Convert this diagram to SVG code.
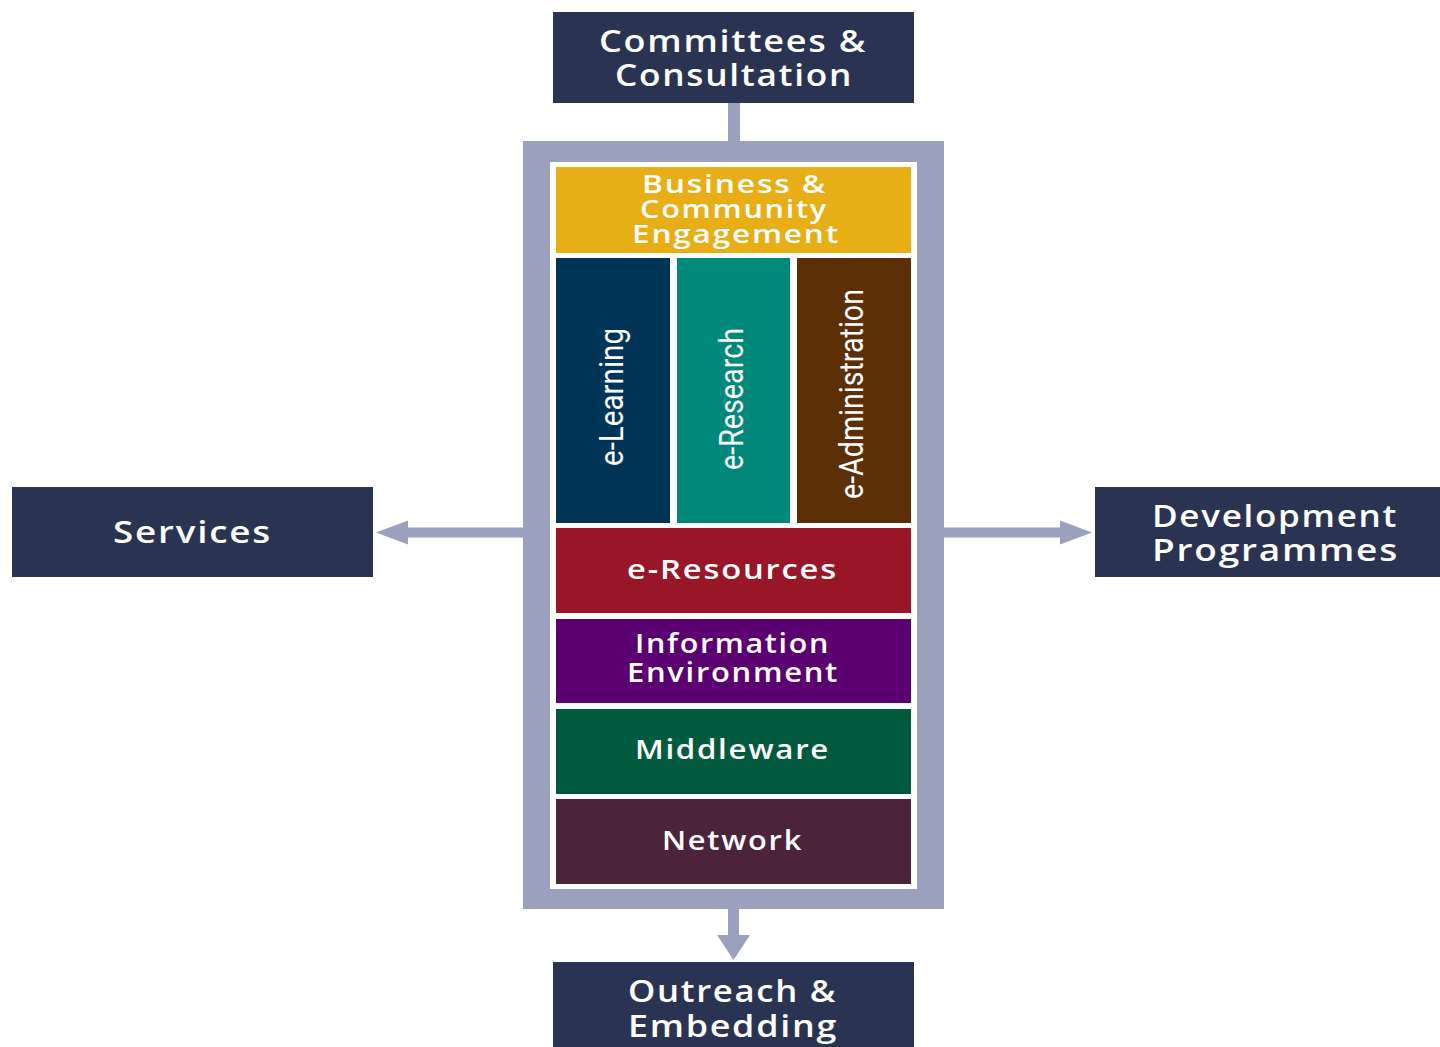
<svg xmlns="http://www.w3.org/2000/svg" width="1440" height="1047" viewBox="0 0 1440 1047">
<style>
.box{fill:#2a3352}
.t{font-family:"Open Sans","Liberation Sans",sans-serif;font-weight:600;fill:#ffffff;text-anchor:middle;letter-spacing:1.5px}
.big{font-size:31px}
.mid{font-size:27px}
.sm{font-size:26px}
.v{font-family:Roboto,"Liberation Sans",sans-serif;font-weight:400;font-size:33px;fill:#ffffff;text-anchor:middle}
.conn{stroke:#9ba0bf;stroke-width:10;fill:none}
</style>
<defs>
<marker id="headSide" markerUnits="userSpaceOnUse" markerWidth="32" markerHeight="24" refX="0" refY="12" orient="auto" overflow="visible">
<path d="M0,0 L32,12 L0,24 Z" fill="#9ba0bf"/>
</marker>
<marker id="headDown" markerUnits="userSpaceOnUse" markerWidth="25" markerHeight="33" refX="0" refY="16.5" orient="auto" overflow="visible">
<path d="M0,0 L25,16.5 L0,33 Z" fill="#9ba0bf"/>
</marker>
</defs>
<rect width="1440" height="1047" fill="#ffffff"/>

<g id="connectors">
<line class="conn" x1="734" y1="103" x2="734" y2="142" style="stroke-width:12"/>
<line class="conn" x1="524" y1="532.5" x2="408" y2="532.5" marker-end="url(#headSide)"/>
<line class="conn" x1="943" y1="532.5" x2="1060" y2="532.5" marker-end="url(#headSide)"/>
<line class="conn" x1="733.5" y1="908" x2="733.5" y2="935" style="stroke-width:11" marker-end="url(#headDown)"/>
</g>

<g id="frame">
<rect x="523" y="141" width="421" height="768" fill="#9ba0bf"/>
<rect x="550" y="162" width="367" height="727" fill="#ffffff"/>
</g>

<g id="committees">
<rect class="box" x="553" y="12" width="361" height="91"/>
<text class="t big" x="733" y="52" textLength="268" lengthAdjust="spacingAndGlyphs">Committees &amp;</text>
<text class="t big" x="734" y="86" textLength="238" lengthAdjust="spacingAndGlyphs">Consultation</text>
</g>

<g id="services">
<rect class="box" x="12" y="487" width="361" height="90"/>
<text class="t big" x="192.5" y="543" textLength="159" lengthAdjust="spacingAndGlyphs">Services</text>
</g>

<g id="development">
<rect class="box" x="1095" y="487" width="345" height="90"/>
<text class="t big" x="1275" y="527" textLength="246" lengthAdjust="spacingAndGlyphs">Development</text>
<text class="t big" x="1275.5" y="561" textLength="247" lengthAdjust="spacingAndGlyphs">Programmes</text>
</g>

<g id="outreach">
<rect class="box" x="553" y="962" width="361" height="85"/>
<text class="t big" x="732.5" y="1002" textLength="209" lengthAdjust="spacingAndGlyphs">Outreach &amp;</text>
<text class="t big" x="733" y="1037" textLength="210" lengthAdjust="spacingAndGlyphs">Embedding</text>
</g>

<g id="business">
<rect x="556" y="167" width="355" height="86" fill="#e8ae16"/>
<text class="t sm" x="734.5" y="193" textLength="185" lengthAdjust="spacingAndGlyphs">Business &amp;</text>
<text class="t sm" x="734" y="218" textLength="188" lengthAdjust="spacingAndGlyphs">Community</text>
<text class="t sm" x="736" y="243" textLength="208" lengthAdjust="spacingAndGlyphs">Engagement</text>
</g>

<g id="elearning">
<rect x="556" y="258" width="114" height="265" fill="#003557"/>
<text class="v" transform="translate(623,397) rotate(-90)" textLength="138" lengthAdjust="spacingAndGlyphs">e-Learning</text>
</g>

<g id="eresearch">
<rect x="677" y="258" width="113" height="265" fill="#00897b"/>
<text class="v" transform="translate(743,399) rotate(-90)" textLength="142" lengthAdjust="spacingAndGlyphs">e-Research</text>
</g>

<g id="eadministration">
<rect x="797" y="258" width="114" height="265" fill="#5c2f06"/>
<text class="v" transform="translate(863,394) rotate(-90)" textLength="210" lengthAdjust="spacingAndGlyphs">e-Administration</text>
</g>

<g id="eresources">
<rect x="556" y="528" width="355" height="85" fill="#991528"/>
<text class="t mid" x="732.5" y="579" textLength="211" lengthAdjust="spacingAndGlyphs">e-Resources</text>
</g>

<g id="information">
<rect x="556" y="619" width="355" height="84" fill="#5b0070"/>
<text class="t mid" x="732.5" y="653" textLength="195" lengthAdjust="spacingAndGlyphs">Information</text>
<text class="t mid" x="733" y="682" textLength="212" lengthAdjust="spacingAndGlyphs">Environment</text>
</g>

<g id="middleware">
<rect x="556" y="709" width="355" height="85" fill="#025a3e"/>
<text class="t mid" x="732.5" y="759" textLength="195" lengthAdjust="spacingAndGlyphs">Middleware</text>
</g>

<g id="network">
<rect x="556" y="799" width="355" height="85" fill="#4b243b"/>
<text class="t mid" x="732.5" y="850" textLength="141" lengthAdjust="spacingAndGlyphs">Network</text>
</g>
</svg>
